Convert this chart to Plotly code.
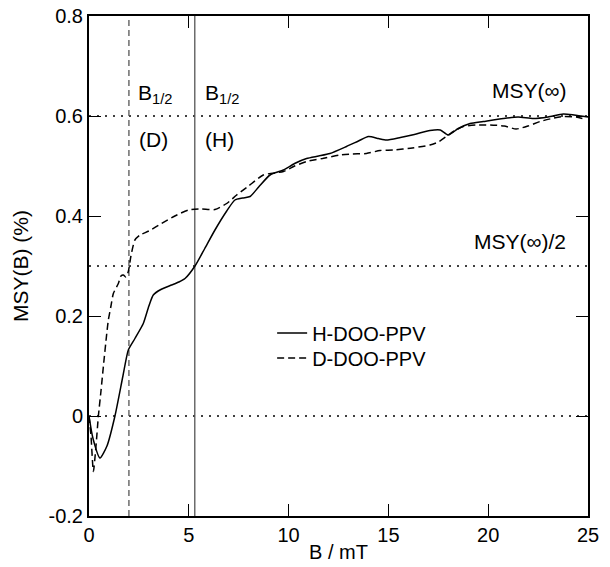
import plotly.graph_objects as go

# H-DOO-PPV (solid)
h_x = [0, 0.2, 0.55, 0.9, 1.3, 1.7, 1.97, 2.3, 2.72, 3.0, 3.22, 3.6, 4.14, 4.5, 4.81, 5.31, 5.8, 6.31,
       6.9, 7.31, 7.7, 8.07, 8.5, 9.07, 9.74, 10.3, 10.9, 11.5, 12.07, 12.9, 13.5, 14.0, 14.5, 14.9,
       15.6, 16.3, 17.08, 17.6, 18.0, 18.5, 19.09, 19.75, 20.76, 21.5, 22.26, 23.0, 23.76, 24.3, 25]
h_y = [0, -0.045, -0.084, -0.06, 0.0, 0.08, 0.132, 0.155, 0.185, 0.22, 0.242, 0.253, 0.262, 0.268,
       0.275, 0.30, 0.335, 0.372, 0.41, 0.432, 0.436, 0.439, 0.458, 0.482, 0.492, 0.505, 0.515, 0.52,
       0.525, 0.539, 0.55, 0.559, 0.555, 0.552, 0.557, 0.563, 0.571, 0.572, 0.562, 0.575, 0.585, 0.589,
       0.595, 0.598, 0.595, 0.598, 0.604, 0.602, 0.598]

# D-DOO-PPV (dashed)
d_x = [0, 0.1, 0.22, 0.35, 0.47, 0.6, 0.72, 0.89, 0.97, 1.1, 1.22, 1.47, 1.6, 1.72, 1.85, 1.97, 2.1,
       2.3, 2.56, 3.0, 3.64, 4.3, 4.98, 5.6, 6.31, 6.9, 7.4, 8.0, 8.73, 9.74, 10.3, 10.9, 11.7, 12.57,
       13.2, 13.9, 14.58, 15.25, 16.2, 17.08, 17.5, 17.9, 18.3, 18.75, 19.4, 20.1, 20.8, 21.4, 22.0,
       22.6, 23.2, 23.76, 24.4, 24.93]
d_y = [0, -0.04, -0.111, -0.06, 0.0, 0.05, 0.099, 0.165, 0.192, 0.22, 0.245, 0.265, 0.28, 0.282,
       0.278, 0.289, 0.32, 0.352, 0.362, 0.37, 0.385, 0.4, 0.412, 0.414, 0.413, 0.425, 0.442, 0.46,
       0.482, 0.489, 0.5, 0.509, 0.515, 0.522, 0.524, 0.525, 0.531, 0.532, 0.536, 0.542, 0.548, 0.559,
       0.57, 0.579, 0.582, 0.582, 0.58, 0.574, 0.58, 0.589, 0.595, 0.599, 0.598, 0.593]

series_names = ["H-DOO-PPV", "D-DOO-PPV"]

# reference levels
msy_inf = 0.6
msy_half = 0.3
b_half_d = 2.0
b_half_h = 5.3

x_ticks = [0, 5, 10, 15, 20, 25]
x_ticktext = ["0", "5", "10", "15", "20", "25"]
y_ticks = [-0.2, 0, 0.2, 0.4, 0.6, 0.8]
y_ticktext = ["-0.2", "0", "0.2", "0.4", "0.6", "0.8"]

FONT = "Liberation Sans, Arial, Helvetica, sans-serif"
FS = 20

fig = go.Figure()
fig.add_trace(go.Scatter(x=h_x, y=h_y, mode="lines", name=series_names[0], legend="legend",
                         line=dict(color="black", width=1.5, shape="spline", smoothing=0.6)))
fig.add_trace(go.Scatter(x=d_x, y=d_y, mode="lines", name=series_names[1], legend="legend2",
                         line=dict(color="black", width=1.5, dash="7px,4px", shape="spline", smoothing=0.6)))

# horizontal dotted lines
for yv in [msy_inf, msy_half, 0]:
    fig.add_shape(type="line", xref="x", yref="y", x0=0, x1=25, y0=yv, y1=yv,
                  line=dict(color="black", width=1.3, dash="2px,6px"), layer="below")
# vertical lines
fig.add_shape(type="line", xref="x", yref="y", x0=b_half_d, x1=b_half_d, y0=-0.2, y1=0.8,
              line=dict(color="#555555", width=1.3, dash="6px,4px"), layer="below")
fig.add_shape(type="line", xref="x", yref="y", x0=b_half_h, x1=b_half_h, y0=-0.2, y1=0.8,
              line=dict(color="#555555", width=1.3), layer="below")

ann_font = dict(family=FONT, size=FS + 1, color="black")
fig.add_annotation(x=b_half_d, y=0.645, xref="x", yref="y", text="B<sub>1/2</sub>", showarrow=False,
                   xanchor="left", yanchor="middle", xshift=7, font=ann_font)
fig.add_annotation(x=b_half_d, y=0.554, xref="x", yref="y", text="(D)", showarrow=False,
                   xanchor="left", xshift=8, font=ann_font)
fig.add_annotation(x=b_half_h, y=0.645, xref="x", yref="y", text="B<sub>1/2</sub>", showarrow=False,
                   xanchor="left", yanchor="middle", xshift=8, font=ann_font)
fig.add_annotation(x=b_half_h, y=0.554, xref="x", yref="y", text="(H)", showarrow=False,
                   xanchor="left", xshift=8, font=ann_font)
fig.add_annotation(x=24.0, y=0.652, xref="x", yref="y", text="MSY(∞)", showarrow=False,
                   xanchor="right", font=ann_font)
fig.add_annotation(x=24.0, y=0.349, xref="x", yref="y", text="MSY(∞)/2", showarrow=False,
                   xanchor="right", font=ann_font)

axis_common = dict(showgrid=False, zeroline=False, showline=True, linecolor="black", linewidth=2,
                   mirror="ticks", ticks="inside", ticklen=12, tickwidth=1.3, tickcolor="black",
                   tickfont=dict(family=FONT, size=FS, color="black"))

fig.update_xaxes(range=[0, 25], tickvals=x_ticks, ticktext=x_ticktext,
                 title=dict(text="B / mT", font=dict(family=FONT, size=FS, color="black"), standoff=0),
                 **axis_common)
fig.update_yaxes(range=[-0.2, 0.8], tickvals=y_ticks, ticktext=y_ticktext,
                 title=dict(text="MSY(B) (%)", font=dict(family=FONT, size=FS + 1, color="black"), standoff=14),
                 **axis_common)

leg_common = dict(xanchor="left", yanchor="middle", bgcolor="rgba(0,0,0,0)",
                  font=dict(family=FONT, size=FS, color="black"), itemwidth=30)
fig.update_layout(
    width=610, height=567,
    margin=dict(l=89, r=22, t=16, b=51, autoexpand=False),
    paper_bgcolor="white", plot_bgcolor="white",
    showlegend=True,
    legend=dict(x=0.367, y=0.366, **leg_common),
    legend2=dict(x=0.367, y=0.316, **leg_common),
    font=dict(family=FONT, size=FS, color="black"),
)

fig.write_html("out.html", config={"displayModeBar": False},
               post_script="document.body.style.margin='0';document.body.style.overflow='hidden';"
                           "document.documentElement.style.overflow='hidden';")
